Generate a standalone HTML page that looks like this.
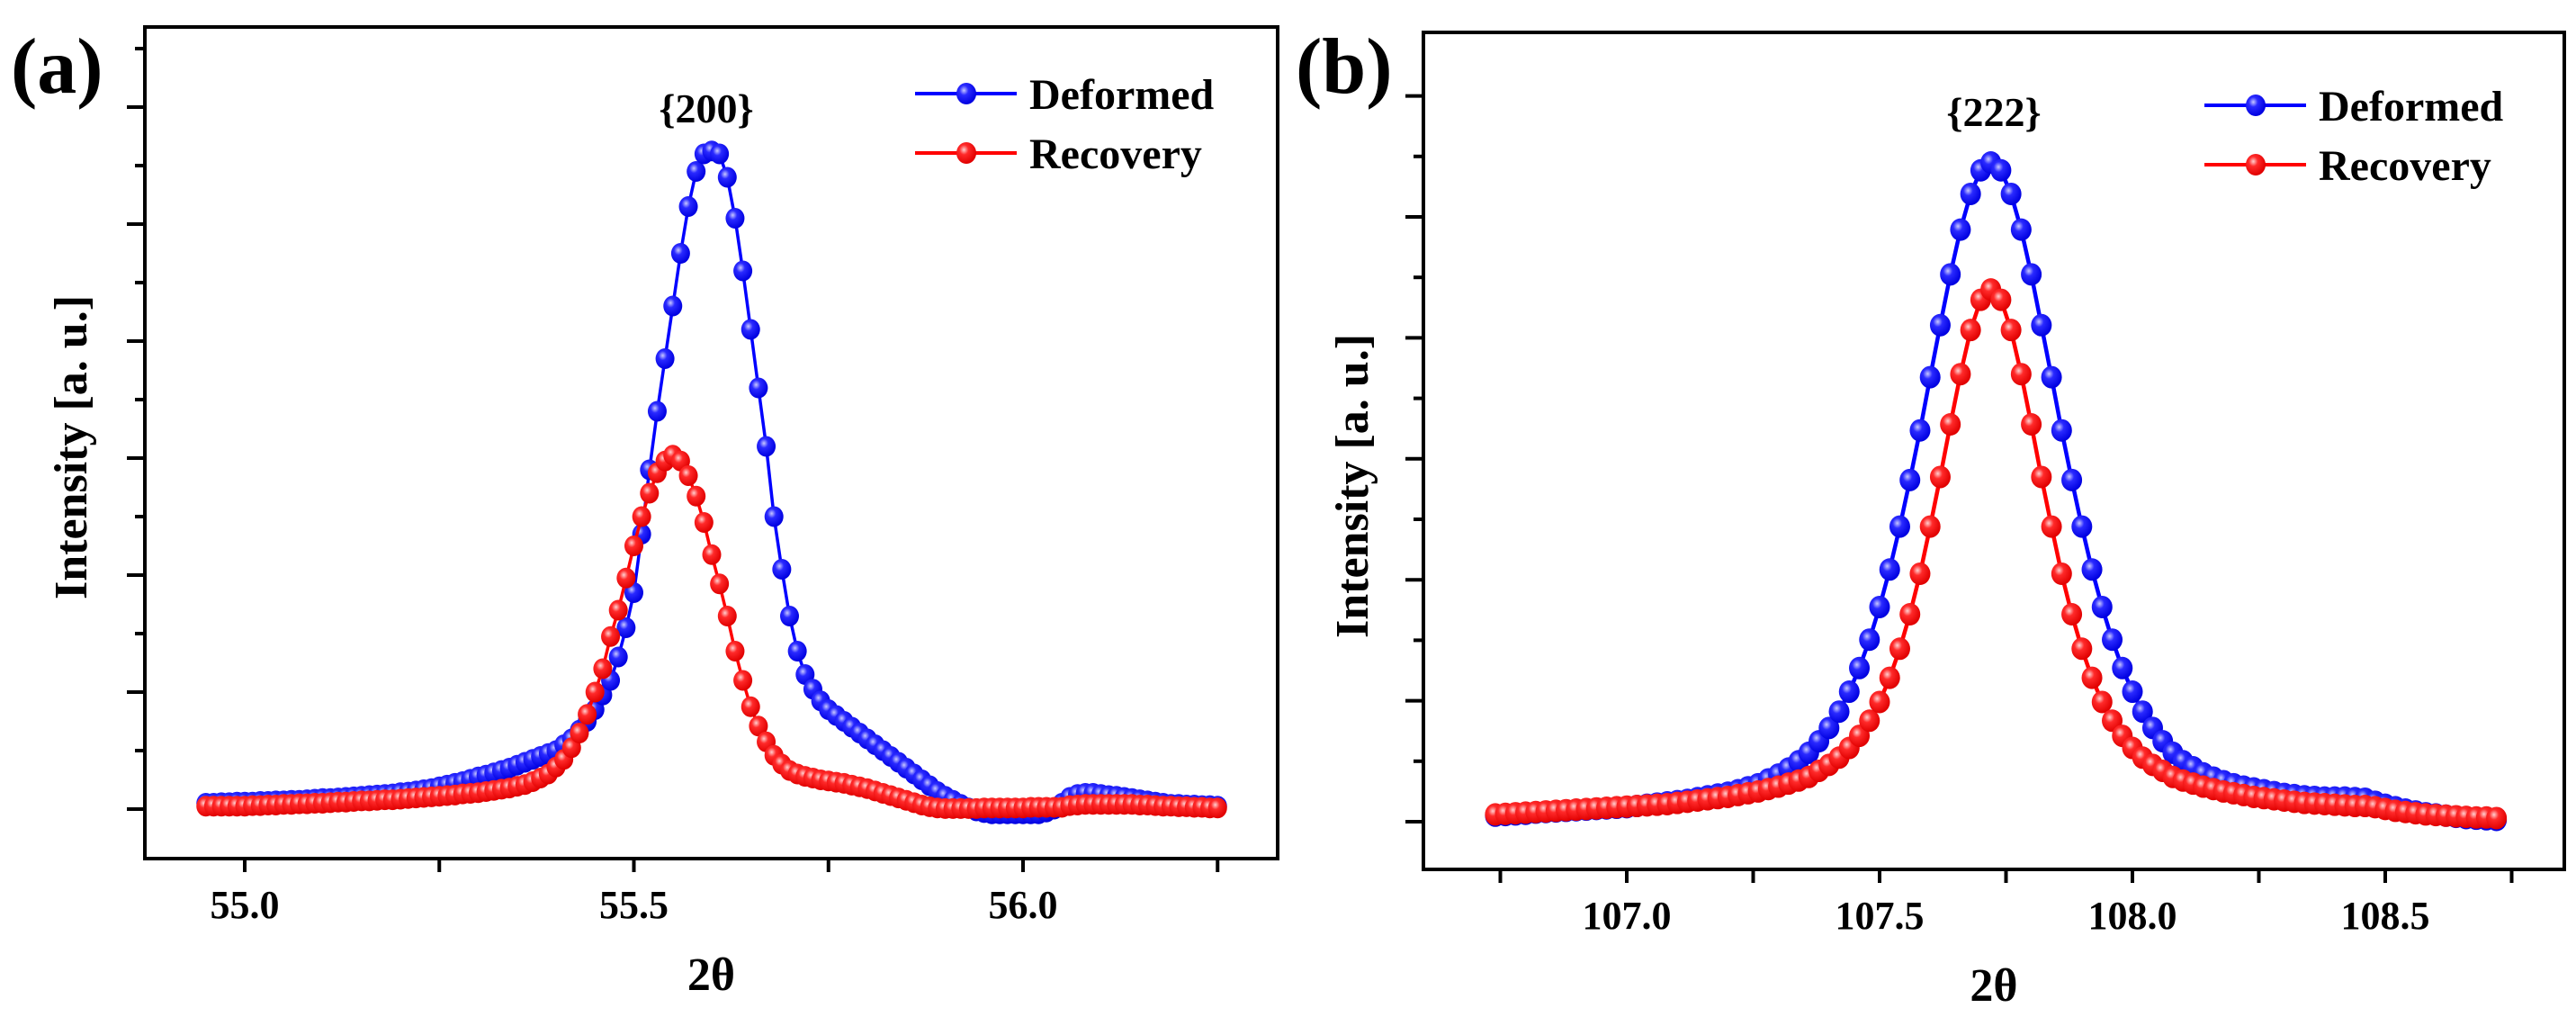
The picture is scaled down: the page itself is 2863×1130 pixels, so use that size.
<!DOCTYPE html>
<html><head><meta charset="utf-8">
<style>
html,body{margin:0;padding:0;background:#fff;}
svg{display:block;}
text{font-family:"Liberation Serif",serif;font-weight:bold;fill:#000;}
</style></head>
<body>
<svg id="fig" width="2863" height="1130" viewBox="0 0 2863 1130" xmlns="http://www.w3.org/2000/svg">
<defs>
<radialGradient id="gb" cx="0.38" cy="0.35" r="0.65"><stop offset="0" stop-color="#c8c8ff"/><stop offset="0.35" stop-color="#2a2aff"/><stop offset="1" stop-color="#0000e0"/></radialGradient>
<radialGradient id="gr" cx="0.38" cy="0.35" r="0.65"><stop offset="0" stop-color="#ffd0d0"/><stop offset="0.35" stop-color="#ff2a2a"/><stop offset="1" stop-color="#e00000"/></radialGradient>
</defs>
<g id="panelA"></g>
<g id="panelB"></g>
</svg>
<script>
// Panel (a) {200}: 2theta from 54.95 step 0.01
const aStart = 54.95;
const aStep = 0.01;
const aDeformed = [0.10,0.10,0.11,0.11,0.12,0.12,0.12,0.13,0.13,0.14,0.14,0.15,0.15,0.16,0.17,0.18,
0.18,0.19,0.20,0.21,0.22,0.23,0.24,0.25,0.26,0.28,
0.29,0.31,0.33,0.35,0.38,0.41,0.44,0.47,0.51,0.55,
0.58,0.62,0.66,0.70,0.75,0.80,0.85,0.90,0.95,1.00,
1.10,1.20,1.35,1.50,1.70,1.95,2.20,2.60,3.10,3.70,
4.70,5.80,6.80,7.70,8.60,9.50,10.30,10.90,11.20,11.25,
11.20,10.80,10.10,9.20,8.20,7.20,6.20,5.00,4.10,3.30,
2.70,2.30,2.05,1.85,1.70,1.60,1.50,1.40,1.30,1.20,
1.10,1.00,0.90,0.80,0.70,0.60,0.50,0.40,0.30,0.22,
0.15,0.08,0.02,-0.03,-0.06,-0.08,-0.08,-0.08,-0.08,-0.08,
-0.08,-0.08,-0.05,0.00,0.10,0.20,0.25,0.27,0.27,0.25,
0.23,0.22,0.20,0.18,0.16,0.14,0.12,0.10,0.08,0.08,
0.07,0.07,0.06,0.06,0.05];
const aRecovery = [0.05,0.05,0.05,0.05,0.05,0.05,0.06,0.06,0.07,0.07,0.08,0.08,0.09,0.09,0.10,0.10,
0.11,0.12,0.12,0.13,0.14,0.14,0.15,0.16,0.16,0.17,
0.18,0.19,0.20,0.21,0.22,0.23,0.24,0.26,0.27,0.28,
0.30,0.32,0.34,0.36,0.39,0.42,0.47,0.53,0.60,0.72,
0.85,1.05,1.30,1.62,2.00,2.40,2.95,3.40,3.95,4.50,
5.00,5.40,5.75,5.95,6.05,5.95,5.70,5.35,4.90,4.35,
3.85,3.30,2.70,2.20,1.75,1.42,1.15,0.92,0.77,0.66,
0.60,0.56,0.53,0.50,0.48,0.46,0.44,0.41,0.38,0.35,
0.31,0.27,0.23,0.19,0.15,0.11,0.07,0.04,0.02,0.01,
0.01,0.01,0.01,0.01,0.02,0.02,0.02,0.02,0.02,0.02,
0.03,0.03,0.03,0.03,0.03,0.06,0.07,0.08,0.08,0.08,
0.08,0.08,0.08,0.08,0.07,0.07,0.06,0.05,0.05,0.04,
0.04,0.03,0.03,0.02,0.02];
const aTicks = [55.0,55.5,56.0];
const aTickLabels = ["55.0","55.5","56.0"];

// Panel (b) {222}: 2theta from 106.74 step 0.02
const bStart = 106.74;
const bStep = 0.02;
const bDeformed = [0.10,0.11,0.12,0.13,0.15,0.16,0.17,0.18,0.19,0.20,
0.21,0.22,0.23,0.24,0.26,0.28,0.30,0.32,0.34,0.36,
0.39,0.42,0.45,0.48,0.52,0.57,0.62,0.70,0.78,0.88,
1.00,1.14,1.33,1.55,1.82,2.15,2.54,3.01,3.55,4.17,
4.88,5.65,6.47,7.35,8.21,9.05,9.79,10.38,10.77,10.90,
10.77,10.38,9.79,9.05,8.21,7.35,6.47,5.65,4.88,4.17,
3.55,3.01,2.54,2.15,1.82,1.55,1.33,1.14,1.00,0.90,
0.80,0.73,0.67,0.62,0.58,0.55,0.52,0.49,0.46,0.44,
0.42,0.41,0.40,0.40,0.40,0.39,0.38,0.33,0.28,0.24,
0.20,0.17,0.14,0.12,0.10,0.08,0.06,0.05,0.04,0.03];
const bRecovery = [0.12,0.13,0.14,0.15,0.16,0.17,0.18,0.19,0.20,0.21,
0.22,0.23,0.24,0.25,0.26,0.27,0.28,0.29,0.31,0.33,
0.35,0.37,0.39,0.41,0.44,0.47,0.50,0.54,0.58,0.63,
0.68,0.74,0.84,0.94,1.06,1.22,1.42,1.67,1.98,2.38,
2.86,3.43,4.10,4.88,5.70,6.57,7.40,8.13,8.63,8.80,
8.63,8.13,7.40,6.57,5.70,4.88,4.10,3.43,2.86,2.38,
1.98,1.67,1.42,1.22,1.06,0.94,0.84,0.74,0.68,0.63,
0.58,0.54,0.50,0.47,0.44,0.41,0.39,0.37,0.35,0.33,
0.31,0.30,0.29,0.28,0.27,0.26,0.26,0.24,0.21,0.18,
0.16,0.14,0.12,0.11,0.10,0.09,0.08,0.07,0.07,0.06];
const bTicks = [107.0,107.5,108.0,108.5];
const bTickLabels = ["107.0","107.5","108.0","108.5"];

const NS = "http://www.w3.org/2000/svg";
function mk(parent, tag, attrs, txt){
  const e = document.createElementNS(NS, tag);
  for (const k in attrs) e.setAttribute(k, attrs[k]);
  if (txt !== undefined) e.textContent = txt;
  parent.appendChild(e);
  return e;
}

function drawPanel(g, cfg){
  const X = v => cfg.x0px + (v - cfg.x0) * cfg.xs;
  const Y = v => cfg.y0px - v * cfg.ys;
  const fr = mk(g,'rect',{x:cfg.L,y:cfg.T,width:cfg.R-cfg.L,height:cfg.B-cfg.T,fill:'none',stroke:'#000','stroke-width':4});
  
  
  for (let k=0; cfg.y0px - k*cfg.ys >= cfg.T+10; k++){
    const yy = Y(k);
    const len = (k%2===0)?20:11;
    const t = mk(g,'line',{x1:cfg.L-len,y1:yy,x2:cfg.L,y2:yy,stroke:'#000','stroke-width':4});
    
    
  }
  const step = cfg.ticks[1]-cfg.ticks[0];
  for (let v = cfg.ticks[0]-step/2; v <= cfg.ticks[cfg.ticks.length-1]+step/2+1e-6; v += step/2){
    const xx = X(v);
    if (xx < cfg.L || xx > cfg.R) continue;
    const t = mk(g,'line',{x1:xx,y1:cfg.B,x2:xx,y2:cfg.B+15,stroke:'#000','stroke-width':4});
    
    
  }
  cfg.ticks.forEach((v,i)=>{
    const t = mk(g,'text',{x:X(v),y:cfg.B+66,'font-size':cfg.tickFont,'text-anchor':'middle'},cfg.labels[i]);
    
    
  });
  const xt = mk(g,'text',{x:(cfg.L+cfg.R)/2,y:cfg.B+146,'font-size':52,'text-anchor':'middle'},'2θ');
  
  
  const yt = mk(g,'text',{x:0,y:0,'font-size':52,'text-anchor':'middle',transform:`translate(${cfg.yTitleX},${cfg.yTitleY}) rotate(-90)`},'Intensity [a. u.]');
  
  
  const pl = mk(g,'text',{x:cfg.plX,y:cfg.plY,'font-size':88},cfg.panelLabel);
  
  
  const pk = mk(g,'text',{x:cfg.pkX,y:cfg.pkY,'font-size':46,'text-anchor':'middle'},cfg.peakLabel);
  
  
  const series = [
    {vals:cfg.def, color:'#0000ff', grad:'url(#gb)', name:'deformed'},
    {vals:cfg.rec, color:'#ff0000', grad:'url(#gr)', name:'recovery'}
  ];
  series.forEach(s=>{
    const sg = mk(g,'g',{});
    
    
    const pts = s.vals.map((v,i)=>X(cfg.start+i*cfg.step).toFixed(1)+','+Y(v).toFixed(1)).join(' ');
    const ln = mk(sg,'polyline',{points:pts,fill:'none',stroke:s.color,'stroke-width':cfg.lw});
    
    
    s.vals.forEach((v,i)=>{
      const c = mk(sg,'ellipse',{cx:X(cfg.start+i*cfg.step),cy:Y(v),rx:cfg.rx,ry:cfg.ry,fill:s.grad});
      
      
    });
  });
  [['Deformed','#0000ff','url(#gb)',cfg.legY],['Recovery','#ff0000','url(#gr)',cfg.legY+66]].forEach(([lab,col,gr,yy])=>{
    const lg = mk(g,'g',{});
    
    
    mk(lg,'line',{x1:cfg.legX,y1:yy,x2:cfg.legX+113,y2:yy,stroke:col,'stroke-width':4});
    mk(lg,'ellipse',{cx:cfg.legX+57,cy:yy,rx:11,ry:12,fill:gr});
    mk(lg,'text',{x:cfg.legX+127,y:yy+17,'font-size':48},lab);
  });
}

drawPanel(document.getElementById('panelA'),{
  L:161,T:30,R:1420,B:954,
  x0:55.0,x0px:272,xs:865,y0px:899,ys:65,
  ticks:aTicks,labels:aTickLabels,tickFont:44,
  start:aStart,step:aStep,def:aDeformed,rec:aRecovery,rx:10.5,ry:11.5,lw:3.5,
  yTitleX:96,yTitleY:497,plX:12,plY:103,panelLabel:'(a)',
  pkX:785,pkY:136,peakLabel:'{200}',legX:1017,legY:104
});
drawPanel(document.getElementById('panelB'),{
  L:1582,T:36,R:2850,B:966,
  x0:107.0,x0px:1808,xs:562,y0px:913,ys:67.2,
  ticks:bTicks,labels:bTickLabels,tickFont:44,
  start:bStart,step:bStep,def:bDeformed,rec:bRecovery,rx:11.5,ry:12.5,lw:4.5,
  yTitleX:1520,yTitleY:540,plX:1440,plY:103,panelLabel:'(b)',
  pkX:2216,pkY:140,peakLabel:'{222}',legX:2450,legY:117
});
</script>
</body></html>
